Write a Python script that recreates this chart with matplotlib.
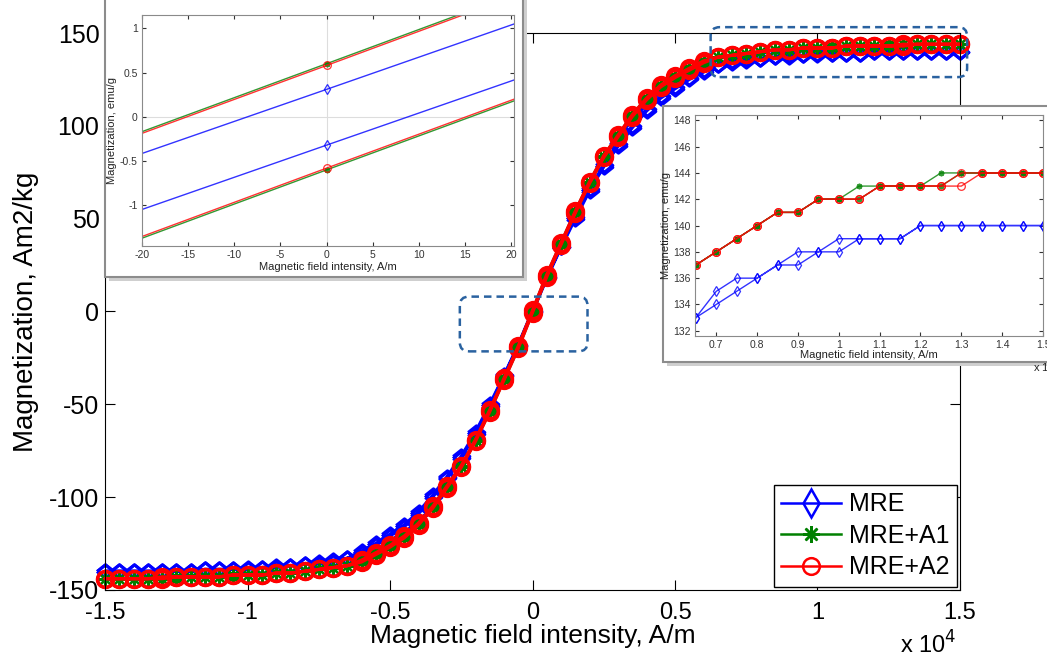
import numpy as np
import matplotlib.pyplot as plt
from matplotlib.lines import Line2D
from matplotlib.patches import FancyBboxPatch, Rectangle
from matplotlib.ticker import FuncFormatter, MultipleLocator
from matplotlib.transforms import IdentityTransform

plt.rcParams['font.family'] = ['Liberation Sans', 'DejaVu Sans']
plt.rcParams['axes.unicode_minus'] = False

# magnetic field grid, A/m
field = np.arange(-15000, 15001, 500)

# magnetization, Am2/kg (= emu/g), listed from -15000 to 15000 A/m
# "down" = branch coming from +H, "up" = branch coming from -H
mre_down = ([-140] * 7 + [-139] * 3 + [-138] * 2 + [-137] * 2 +
            [-136, -135, -134, -133, -129, -125, -120, -115, -108, -99, -89, -78, -65, -50, -34.5, -17.8] +
            [0.31, 18.5, 35, 51, 66, 79, 90, 100, 109, 116, 121, 126, 130, 133, 135, 136, 136, 137, 138, 138] +
            [139] * 4 + [140] * 7)
mre_up = ([-140] * 7 + [-139] * 4 + [-138] * 2 +
          [-137, -136, -136, -135, -133, -130, -126, -121, -116, -109, -100, -90, -79, -66, -51, -35, -18.5] +
          [-0.32, 17.8, 34.5, 50, 65, 78, 89, 99, 108, 115, 120, 125, 129, 133, 134, 135, 136, 137, 137, 138, 138] +
          [139] * 3 + [140] * 7)

a1_down = ([-144] * 5 + [-143] * 4 + [-142] * 3 + [-141] * 2 +
           [-140, -139, -138, -137, -134, -130, -126, -121, -114, -105, -94, -83, -69, -53, -36, -18.6] +
           [0.6, 19.9, 37, 54, 70, 84, 95, 106, 115, 122, 127, 131, 135, 137, 138, 139, 140, 141, 141, 142, 142] +
           [143] * 4 + [144] * 6)
a1_up = ([-144] * 6 + [-143] * 4 + [-142] * 2 + [-141] * 2 +
         [-140, -139, -138, -137, -135, -131, -127, -122, -115, -106, -95, -84, -70, -54, -37, -19.9] +
         [-0.6, 18.6, 36, 53, 69, 83, 94, 105, 114, 121, 126, 130, 134, 137, 138, 139, 140, 141, 141, 142, 142, 142] +
         [143] * 4 + [144] * 5)

a2_down = ([-144] * 4 + [-143] * 5 + [-142] * 3 + [-141] * 2 +
           [-140, -139, -138, -137, -134, -130, -126, -121, -114, -105, -94, -83, -69, -53, -36, -18.6] +
           [0.58, 19.9, 37, 54, 70, 84, 95, 106, 115, 122, 127, 131, 135, 137, 138, 139, 140, 141, 141, 142, 142, 142] +
           [143] * 4 + [144] * 5)
a2_up = ([-144] * 5 + [-143] * 4 + [-142] * 3 + [-141] * 2 +
         [-140, -139, -138, -137, -135, -131, -127, -122, -115, -106, -95, -84, -70, -54, -37, -19.9] +
         [-0.58, 18.6, 36, 53, 69, 83, 94, 105, 114, 121, 126, 130, 134, 137, 138, 139, 140, 141, 141, 142, 142, 142] +
         [143] * 5 + [144] * 4)

labels = ['MRE', 'MRE+A1', 'MRE+A2']
colors = ['blue', 'green', 'red']
# slightly flattened diamond, asterisk, circle
diamond = [(-1, 0), (0, 0.8), (1, 0), (0, -0.8), (-1, 0)]
markers = [diamond, (8, 2, 0), 'o']

# zoomed regions marked on main chart (A/m, Am2/kg)
zoom_regions = [(-2550, -21.5, 1930, 8.0), (6250, 126.3, 15250, 153.2)]

x_loop = np.concatenate([field[::-1], field])
loops = [np.concatenate([np.array(d)[::-1], np.array(u)])
         for d, u in [(mre_down, mre_up), (a1_down, a1_up), (a2_down, a2_up)]]

fig = plt.figure(figsize=(10.47, 6.62), dpi=100)
ax = fig.add_axes([0.1003, 0.109, 0.8166, 0.841])

main_style = [dict(lw=2.3, ms=12, mew=2.2), dict(lw=2.0, ms=10, mew=1.5), dict(lw=2.3, ms=11.5, mew=2.4)]
for y, c, m, st in zip(loops, colors, markers, main_style):
    ax.plot(x_loop, y, color=c, marker=m, mfc='none', mec=c, clip_on=False, **st)

ax.set_xlim(-15000, 15000)
ax.set_ylim(-150, 150)
ax.xaxis.set_major_locator(MultipleLocator(5000))
ax.yaxis.set_major_locator(MultipleLocator(50))
ax.xaxis.set_major_formatter(FuncFormatter(lambda v, p: f'{v / 1e4:g}'))
ax.tick_params(direction='in', top=True, right=True, length=7)
ax.tick_params(axis='x', pad=9, labelsize=17)
ax.tick_params(axis='y', pad=4, labelsize=18)
ax.set_xlabel('Magnetic field intensity, A/m', fontsize=19, labelpad=0)
ax.set_ylabel('Magnetization, Am2/kg', fontsize=20, labelpad=7)
fig.text(0.86, 0.012, r'x 10$^{4}$', fontsize=17)

handles = [Line2D([], [], color='blue', lw=1.8, marker='d', ms=14, mfc='none', mew=1.8),
           Line2D([], [], color='green', lw=1.8, marker=(8, 2, 0), ms=12, mew=1.8),
           Line2D([], [], color='red', lw=1.8, marker='o', ms=12, mfc='none', mew=1.8)]
leg = ax.legend(handles, labels, loc='lower right', fontsize=18, fancybox=False, framealpha=1,
                edgecolor='black', handlelength=2.4, borderaxespad=0.12, labelspacing=0.3,
                handletextpad=0.3, borderpad=0.3)
leg.get_frame().set_linewidth(1.0)

# dashed rounded boxes around the zoomed regions
for x0, y0, x1, y1 in zoom_regions:
    (px0, py0), (px1, py1) = ax.transData.transform([(x0, y0), (x1, y1)])
    box = FancyBboxPatch((px0, py0), px1 - px0, py1 - py0, boxstyle='round,pad=0,rounding_size=9',
                         transform=IdentityTransform(), fill=False, ec='#2a62a0', lw=1.8,
                         ls=(0, (3, 2)), zorder=2)
    fig.add_artist(box)


def panel(rect):
    x, y, w, h = rect
    shadow = Rectangle((x + 0.004, y - 0.006), w, h, transform=fig.transFigure,
                       fc='#cfcfcf', ec='none', zorder=3)
    face = Rectangle((x, y), w, h, transform=fig.transFigure,
                     fc='white', ec='#8c8c8c', lw=1.5, zorder=3.5)
    fig.add_artist(shadow)
    fig.add_artist(face)


def inset_style(a):
    a.set_facecolor('white')
    for s in a.spines.values():
        s.set_color('#8a8a8a')
        s.set_linewidth(0.8)
    a.tick_params(direction='in', top=True, right=True, length=3, labelsize=7.5,
                  colors='#333333', pad=3)


inset_line = [dict(lw=1.0, ms=5, mew=0.9), dict(lw=1.0, ms=4, mew=1.2), dict(lw=1.0, ms=5.5, mew=0.9)]

# inset 1: around the origin
panel((0.1003, 0.5816, 0.3992, 0.43))
ins1 = fig.add_axes([0.1356, 0.6284, 0.3553, 0.3489], zorder=4)
inset_style(ins1)
ins1.axhline(0, color='#dddddd', lw=0.8, zorder=0)
ins1.axvline(0, color='#dddddd', lw=0.8, zorder=0)
for y, c, m, st in zip(loops, colors, ['d', (8, 2, 0), 'o'], inset_line):
    ins1.plot(x_loop, y, color=c, marker=m, mfc='none', mec=c, alpha=0.8, **st)
ins1.set_xlim(-20, 20.3)
ins1.set_ylim(-1.46, 1.15)
ins1.xaxis.set_major_locator(MultipleLocator(5))
ins1.yaxis.set_major_locator(MultipleLocator(0.5))
ins1.yaxis.set_major_formatter(FuncFormatter(lambda v, p: f'{v:g}'))
ins1.set_xlabel('Magnetic field intensity, A/m', fontsize=8, labelpad=1, color='#222222')
ins1.set_ylabel('Magnetization, emu/g', fontsize=8, labelpad=2, color='#222222')

# inset 2: saturation region
panel((0.6332, 0.4532, 0.38, 0.3867))
ins2 = fig.add_axes([0.6638, 0.4924, 0.3324, 0.3338], zorder=4)
inset_style(ins2)
for y, c, m, st in zip(loops, colors, ['d', (8, 2, 0), 'o'], inset_line):
    ins2.plot(x_loop, y, color=c, marker=m, mfc='none', mec=c, alpha=0.8, **st)
ins2.set_xlim(6480, 15000)
ins2.set_ylim(131.6, 148.4)
ins2.xaxis.set_major_locator(MultipleLocator(1000))
ins2.yaxis.set_major_locator(MultipleLocator(2))
ins2.xaxis.set_major_formatter(FuncFormatter(lambda v, p: f'{v / 1e4:g}'))
ins2.set_xlabel('Magnetic field intensity, A/m', fontsize=8, labelpad=0, color='#222222')
ins2.set_ylabel('Magnetization, emu/g', fontsize=8, labelpad=2, color='#222222')
ins2.text(0.97, -0.1, r'x 10$^{4}$', transform=ins2.transAxes, fontsize=8,
          ha='left', va='top', color='#222222')

fig.savefig('out.png', dpi=100)
